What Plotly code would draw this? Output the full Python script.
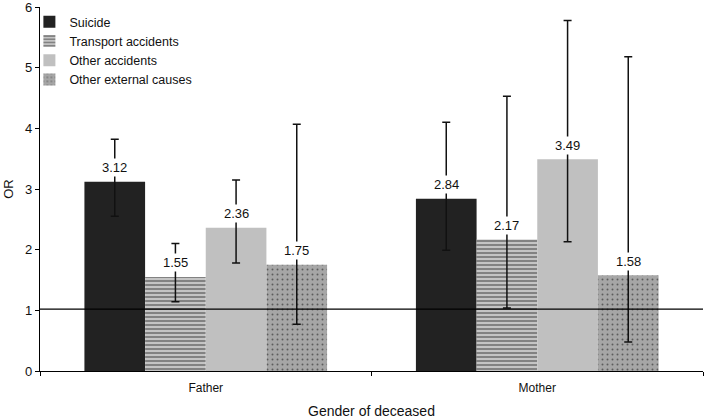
import plotly.graph_objects as go

categories = ["Father", "Mother"]
series = ["Suicide", "Transport accidents", "Other accidents", "Other external causes"]
values = {
    "Suicide": [3.12, 2.84],
    "Transport accidents": [1.55, 2.17],
    "Other accidents": [2.36, 3.49],
    "Other external causes": [1.75, 1.58],
}
upper = {
    "Suicide": [3.82, 4.10],
    "Transport accidents": [2.10, 4.53],
    "Other accidents": [3.15, 5.78],
    "Other external causes": [4.07, 5.18],
}
lower = {
    "Suicide": [2.55, 1.99],
    "Transport accidents": [1.14, 1.04],
    "Other accidents": [1.78, 2.13],
    "Other external causes": [0.77, 0.48],
}
y_ticks = [0, 1, 2, 3, 4, 5, 6]
reference_or = 1.02

styles = {
    "Suicide": dict(color="#222222"),
    "Transport accidents": dict(color="#c4c4c4",
                                pattern=dict(shape="-", fgcolor="#1e1e1e", bgcolor="#c4c4c4",
                                             size=4, solidity=0.4)),
    "Other accidents": dict(color="#c0c0c0"),
    "Other external causes": dict(color="#a6a6a6",
                                  pattern=dict(shape=".", fgcolor="#111111", bgcolor="#a6a6a6",
                                               size=5, solidity=0.12)),
}

n = len(series)
bw = 0.183
fig = go.Figure()
annotations = []
for i, s in enumerate(series):
    off = (i - (n - 1) / 2) * bw
    xs = [k + off for k in range(len(categories))]
    v = values[s]
    fig.add_trace(go.Bar(
        name=s, x=xs, y=v, width=bw,
        marker=dict(line=dict(width=0), **styles[s]),
        error_y=dict(type="data", symmetric=False,
                     array=[u - a for u, a in zip(upper[s], v)],
                     arrayminus=[a - l for l, a in zip(lower[s], v)],
                     color="#111111", thickness=1.5, width=4),
    ))
    for x, a in zip(xs, v):
        annotations.append(dict(x=x, y=a, text=f"{a:.2f}", showarrow=False,
                                yshift=14, yanchor="middle", bgcolor="white",
                                borderpad=1,
                                font=dict(size=13, color="#111111")))

fig.add_shape(type="line", xref="paper", yref="y", x0=0, x1=1,
              y0=reference_or, y1=reference_or,
              line=dict(color="black", width=1.2), layer="above")

fig.update_layout(
    width=709, height=419,
    margin=dict(l=40, r=6, t=7, b=48, autoexpand=False),
    paper_bgcolor="white", plot_bgcolor="white",
    font=dict(family="Liberation Sans, Arial, sans-serif", color="#111111"),
    barmode="overlay",
    showlegend=True,
    legend=dict(x=-0.016, y=1.0, xanchor="left", yanchor="top",
                font=dict(size=12.5), bgcolor="rgba(0,0,0,0)",
                itemwidth=30),
    annotations=annotations,
    xaxis=dict(range=[-0.5, 1.5], tickvals=[0, 1], ticktext=categories,
               ticks="", showline=True, linecolor="black", linewidth=1.2,
               tickfont=dict(size=12), showgrid=False, zeroline=False,
               automargin=False, ticklabelstandoff=5,
               minor=dict(tickvals=[-0.5, 0.5, 1.5], ticks="outside",
                          ticklen=4, tickcolor="black", tickwidth=1),
               title=dict(text="Gender of deceased", font=dict(size=14), standoff=14)),
    yaxis=dict(range=[0, 6.001], tickmode="array", tickvals=y_ticks,
               ticks="outside", ticklen=4, ticklabeloverflow="allow",
               tickcolor="black", showline=True, linecolor="black", linewidth=1.2,
               showgrid=False, zeroline=False, tickfont=dict(size=13),
               automargin=False,
               title=dict(text="OR", font=dict(size=13), standoff=8)),
)

fig.write_html("out.html", config={"displayModeBar": False},
               post_script="document.body.style.margin='0';document.body.style.overflow='hidden';")
